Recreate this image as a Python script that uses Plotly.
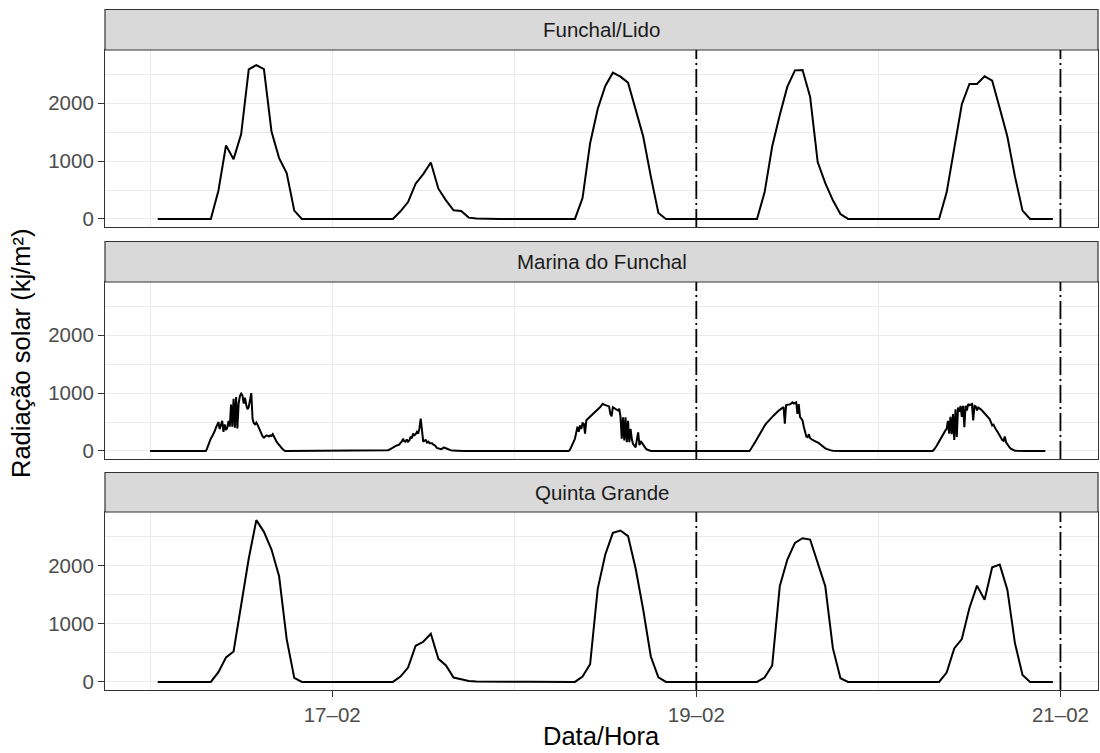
import pandas as pd
import plotly.graph_objects as go

# ---------------- DATA ----------------
stations = ["Funchal/Lido", "Marina do Funchal", "Quinta Grande"]
days = ["2023-02-16", "2023-02-17", "2023-02-18", "2023-02-19", "2023-02-20"]

# Hourly stations: values for hours 1..23 on 16-02, then hours 0..23 on the other days
lido_16 = [0, 0, 0, 0, 0, 0, 0, 0, 489, 1270, 1034, 1466, 2586, 2661, 2592, 1511, 1052, 793, 144, 0, 0, 0, 0]
lido_17 = [0, 0, 0, 0, 0, 0, 0, 0, 0, 132, 293, 609, 776, 977, 523, 322, 149, 138, 23, 6, 0, 0, 0, 0]
lido_18 = [0, 0, 0, 0, 0, 0, 0, 0, 0, 362, 1310, 1900, 2299, 2529, 2460, 2356, 1885, 1425, 736, 103, 0, 0, 0, 0]
lido_19 = [0, 0, 0, 0, 0, 0, 0, 0, 0, 460, 1253, 1799, 2287, 2569, 2575, 2115, 983, 621, 322, 86, 0, 0, 0, 0]
lido_20 = [0, 0, 0, 0, 0, 0, 0, 0, 0, 460, 1195, 1983, 2333, 2333, 2466, 2391, 1914, 1425, 736, 144, 0, 0, 0, 0]

quinta_16 = [0, 0, 0, 0, 0, 0, 0, 0, 167, 420, 523, 1299, 2121, 2782, 2580, 2276, 1816, 736, 69, 0, 0, 0, 0]
quinta_17 = [0, 0, 0, 0, 0, 0, 0, 0, 0, 92, 247, 621, 690, 828, 397, 282, 75, 46, 17, 6, 3, 2, 1, 1]
quinta_18 = [1, 1, 1, 0, 0, 0, 0, 0, 0, 92, 305, 1600, 2190, 2563, 2603, 2506, 1950, 1241, 437, 80, 0, 0, 0, 0]
quinta_19 = [0, 0, 0, 0, 0, 0, 0, 0, 0, 75, 282, 1644, 2103, 2391, 2471, 2448, 2046, 1644, 580, 63, 0, 0, 0, 0]
quinta_20 = [0, 0, 0, 0, 0, 0, 0, 0, 0, 161, 575, 736, 1270, 1655, 1414, 1971, 2017, 1586, 667, 121, 0, 0, 0, 0]

# Marina do Funchal: 10-minute readings; night readings are 0
marina_start = "2023-02-16 00:00"
marina_end = "2023-02-20 22:00"
marina_d16_start = "2023-02-16 07:20"
marina_d16 = [0, 40, 100, 170, 215, 250, 290, 340, 400, 440, 500, 380, 470, 520, 330, 460, 360, 400,
              520, 420, 800, 420, 900, 400, 930, 390, 820, 950, 990, 960, 820, 920, 800, 720, 760, 920,
              1000, 560, 480, 460, 490, 450, 390, 350, 300, 250, 230, 250, 270, 260, 250, 270, 260, 290,
              240, 200, 160, 130, 110, 80, 50, 25, 10, 0]
marina_d17_start = "2023-02-17 07:00"
marina_d17 = [0, 5, 12, 20, 35, 50, 70, 75, 85, 95, 100, 110, 140, 160, 210, 170, 160, 200, 160, 180,
              245, 220, 300, 270, 290, 330, 300, 390, 560, 360, 160, 180, 190, 145, 160, 135, 140, 135,
              110, 100, 75, 50, 45, 35, 30, 40, 60, 55, 45, 35, 20, 15, 10, 6, 4, 3, 2, 1, 0]
marina_d18_start = "2023-02-18 07:10"
marina_d18 = [0, 20, 60, 110, 160, 210, 340, 420, 330, 440, 380, 480, 470, 300, 530, 550, 575, 590,
              610, 635, 655, 675, 690, 710, 740, 760, 790, 815, 800, 795, 785, 780, 770, 640, 600, 757,
              745, 735, 720, 700, 730, 600, 210, 580, 180, 580, 150, 520, 150, 380, 200, 120, 90, 64,
              200, 320, 100, 170, 140, 100, 64, 40, 25, 12, 5, 0]
marina_d19_start = "2023-02-19 07:00"
marina_d19 = [0, 30, 55, 100, 135, 175, 215, 260, 300, 340, 370, 405, 435, 468, 495, 520, 545, 565,
              590, 610, 630, 655, 675, 695, 710, 725, 740, 760, 470, 790, 800, 800, 805, 820, 840, 820,
              830, 840, 640, 810, 590, 560, 530, 420, 300, 250, 240, 290, 220, 200, 190, 180, 170, 160,
              150, 135, 115, 95, 75, 60, 45, 35, 25, 18, 12, 6, 2, 0]
marina_d20_start = "2023-02-20 07:10"
marina_d20 = [0, 25, 50, 85, 125, 165, 210, 250, 300, 330, 355, 380, 520, 300, 590, 290, 640, 190,
              720, 240, 750, 680, 780, 590, 780, 410, 780, 700, 810, 790, 800, 810, 530, 780, 770, 700,
              750, 740, 720, 700, 675, 650, 630, 610, 580, 550, 500, 440, 455, 400, 370, 340, 300, 270,
              230, 190, 175, 250, 150, 110, 80, 55, 35, 20, 10, 5, 2, 0]

tick_dates = ["2023-02-17", "2023-02-19", "2023-02-21"]
tick_labels = ["17–02", "19–02", "21–02"]
minor_dates = ["2023-02-16", "2023-02-18", "2023-02-20"]
vline_dates = ["2023-02-19", "2023-02-21"]
y_ticks = [0, 1000, 2000]
y_minor = [500, 1500, 2500]
x_title = "Data/Hora"
y_title = "Radiação solar (kj/m²)"

# ---------------- BUILD SERIES ----------------
def hourly(day_lists):
    vals, times = [], []
    for d, lst in zip(days, day_lists):
        first = 24 - len(lst)
        for i, v in enumerate(lst):
            times.append(pd.Timestamp(d) + pd.Timedelta(hours=first + i))
            vals.append(v)
    return times, vals

lido_t, lido_v = hourly([lido_16, lido_17, lido_18, lido_19, lido_20])
quinta_t, quinta_v = hourly([quinta_16, quinta_17, quinta_18, quinta_19, quinta_20])

idx = pd.date_range(marina_start, marina_end, freq="10min")
marina = pd.Series(0.0, index=idx)
for st, lst in [(marina_d16_start, marina_d16), (marina_d17_start, marina_d17),
                (marina_d18_start, marina_d18), (marina_d19_start, marina_d19),
                (marina_d20_start, marina_d20)]:
    seg = pd.date_range(st, periods=len(lst), freq="10min")
    marina.loc[seg] = lst
series = [(lido_t, lido_v), (list(marina.index), list(marina.values)), (quinta_t, quinta_v)]

# ggplot-like 5% expansion
all_t = lido_t + quinta_t + list(marina.index)
tmin, tmax = min(all_t), max(all_t)
pad = (tmax - tmin) * 0.05
xrange = [tmin - pad, tmax + pad]
ymax = max(max(lido_v), max(quinta_v), marina.max())
yrange = [-0.05 * ymax, 1.05 * ymax]

# ---------------- LAYOUT ----------------
W, H = 1100, 753
ml, mr, mt, mb = 105, 2, 9, 63
ph = H - mt - mb
def fy(p):
    return (H - mb - p) / ph

# (plot top px, plot bottom px, strip top px)
panels = [(50, 227, 9.5), (282, 459, 241.5), (512, 690, 472.5)]

FONT = "Liberation Sans, Arial, sans-serif"
TICK = 20.5
TITLE = 25.5
fig = go.Figure()
layout = dict(width=W, height=H, margin=dict(l=ml, r=mr, t=mt, b=mb),
              paper_bgcolor="white", plot_bgcolor="white", showlegend=False,
              font=dict(family=FONT, color="#4D4D4D"))
shapes, annotations = [], []

for i, (name, (tx, vy), (top, bot, stop)) in enumerate(zip(stations, series, panels)):
    k = "" if i == 0 else str(i + 1)
    last = i == len(stations) - 1
    fig.add_trace(go.Scatter(x=tx, y=vy, mode="lines", line=dict(color="black", width=2.0),
                             xaxis="x" + k, yaxis="y" + k, hoverinfo="skip"))
    layout["xaxis" + k] = dict(
        domain=[0, 1], anchor="y" + k, range=xrange, type="date",
        tickvals=tick_dates, ticktext=tick_labels,
        showticklabels=last, ticks="outside" if last else "", ticklen=6, tickwidth=1.2,
        tickcolor="#333333", tickfont=dict(size=TICK, color="#4D4D4D"),
        showgrid=True, gridcolor="#EBEBEB", gridwidth=1.4, zeroline=False,
        minor=dict(tickvals=minor_dates, showgrid=True, gridcolor="#EBEBEB", gridwidth=0.8, ticks=""),
        showline=True, mirror=True, linecolor="#333333", linewidth=1.2,
        matches="x" if i > 0 else None,
    )
    layout["yaxis" + k] = dict(
        domain=[fy(bot), fy(top)], anchor="x" + k, range=yrange,
        tickvals=y_ticks, ticks="outside", ticklen=6, tickwidth=1.2, tickcolor="#333333",
        tickfont=dict(size=TICK, color="#4D4D4D"),
        showgrid=True, gridcolor="#EBEBEB", gridwidth=1.4, zeroline=False,
        minor=dict(tickvals=y_minor, showgrid=True, gridcolor="#EBEBEB", gridwidth=0.8, ticks=""),
        showline=True, mirror=True, linecolor="#333333", linewidth=1.2,
    )
    # strip
    shapes.append(dict(type="rect", xref="paper", yref="paper", x0=0, x1=1,
                       y0=fy(top), y1=fy(stop), fillcolor="#D9D9D9",
                       line=dict(color="#333333", width=1.2), layer="above"))
    annotations.append(dict(text=name, xref="paper", yref="paper", x=0.5, y=(fy(top) + fy(stop)) / 2,
                            showarrow=False, xanchor="center", yanchor="middle",
                            font=dict(size=TICK, color="#1A1A1A", family=FONT)))
    for vd in vline_dates:
        shapes.append(dict(type="line", xref="x" + k, yref="y" + k + " domain", x0=vd, x1=vd,
                           y0=0, y1=1, line=dict(color="black", width=1.8, dash="18px,4px,2px,4px"),
                           layer="above"))

annotations.append(dict(text=x_title, xref="paper", yref="paper", x=0.5, y=fy(736),
                        showarrow=False, xanchor="center", yanchor="middle",
                        font=dict(size=TITLE, color="black", family=FONT)))
annotations.append(dict(text=y_title, xref="paper", yref="paper", x=(21 - ml) / (W - ml - mr),
                        y=fy(354), textangle=-90, showarrow=False, xanchor="center", yanchor="middle",
                        font=dict(size=TITLE, color="black", family=FONT)))
layout["shapes"] = shapes
layout["annotations"] = annotations
fig.update_layout(**layout)
fig.write_html("out.html")
